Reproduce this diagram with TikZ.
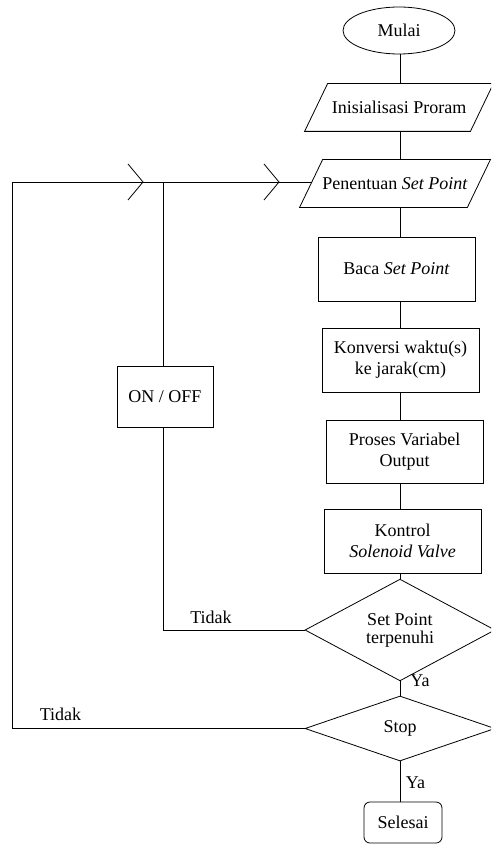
\documentclass[tikz,border=0pt]{standalone}
\usepackage{fontspec}
\setmainfont{Liberation Serif}
\usetikzlibrary{shapes.geometric,calc}
\begin{document}
\begin{tikzpicture}[x=1pt,y=-1pt,line width=0.8pt,
  txt/.style={font=\fontsize{18}{21}\selectfont,align=center,inner sep=0pt},
  box/.style={txt,draw,rectangle},
  plain/.style={txt,draw=none,rectangle},
  dec/.style={txt,draw,diamond,minimum width=190,minimum height=66},
  lbl/.style={font=\fontsize{18}{21}\selectfont,inner sep=0pt}]
\useasboundingbox (0,0) rectangle (491,845);
\clip (0,0) rectangle (491,845);
\coordinate (trunk) at (400,0);
% nodes
\node[txt,draw,ellipse,minimum width=112,minimum height=47] (mulai) at (399,30.5) {Mulai};
\node[plain,minimum width=165,minimum height=47] (init) at (399,107.5) {Inisialisasi Proram};
\node[plain,minimum width=167,minimum height=47] (pen) at (395,183.5) {Penentuan \textit{Set Point}};
\node[box,minimum width=157,minimum height=64] (baca) at (396.5,269) {Baca \textit{Set Point}};
\node[box,minimum width=157,minimum height=64] (konv) at (400.5,360) {Konversi waktu(s)\\ke jarak(cm)};
\node[box,minimum width=157,minimum height=63] (proses) at (404.5,451.5) {Proses Variabel\\Output};
\node[box,minimum width=157,minimum height=64] (kontrol) at (402.5,541) {Kontrol\\\textit{Solenoid Valve}};
\node[dec] (d1) at (400,630) {Set Point\\[-3pt]terpenuhi};
\node[dec,minimum height=65] (d2) at (400,728.5) {Stop};
\node[box,rounded corners=6,minimum width=78,minimum height=41] (selesai) at (403,822.5) {Selesai};
\node[box,minimum width=96,minimum height=61] (onoff) at (165,396.5) {ON / OFF};
% parallelograms
\draw ($(init.north west)+(11.5,0)$) -- ($(init.north east)+(11.5,0)$) -- ($(init.south east)+(-11.5,0)$) -- ($(init.south west)+(-11.5,0)$) -- cycle;
\draw ($(pen.north west)+(11.5,0)$) -- ($(pen.north east)+(11.5,0)$) -- ($(pen.south east)+(-11.5,0)$) -- ($(pen.south west)+(-11.5,0)$) -- cycle;
% trunk connectors
\draw (mulai.south -| trunk) -- (init.north -| trunk);
\draw (init.south -| trunk) -- (pen.north -| trunk);
\draw (pen.south -| trunk) -- (baca.north -| trunk);
\draw (baca.south -| trunk) -- (konv.north -| trunk);
\draw (konv.south -| trunk) -- (proses.north -| trunk);
\draw (proses.south -| trunk) -- (kontrol.north -| trunk);
\draw (kontrol.south -| trunk) -- (d1.north);
\draw (d1.south) -- (d2.north);
\draw (d2.south) -- (selesai.north -| d2.south);
% loops
\coordinate (loopL) at (12,182);
\coordinate (junc) at (163,182);
\coordinate (penin) at (311.5,182);
\draw (d2.west) -| (loopL) -- (penin);
\draw (d1.west) -| (onoff.south -| junc);
\draw (onoff.north -| junc) -- (junc);
% chevrons
\coordinate (ch1) at (143,182);
\coordinate (ch2) at (279,182);
\draw ([shift={(-15,-18)}]ch1) -- (ch1) -- ([shift={(-15,18)}]ch1);
\draw ([shift={(-15,-18)}]ch2) -- (ch2) -- ([shift={(-15,18)}]ch2);
% labels
\node[lbl] (t1) at (211,617) {Tidak};
\node[lbl] (t2) at (60.5,714) {Tidak};
\node[lbl] (y1) at (420,681) {Ya};
\node[lbl] (y2) at (415.5,783) {Ya};
\end{tikzpicture}
\end{document}
